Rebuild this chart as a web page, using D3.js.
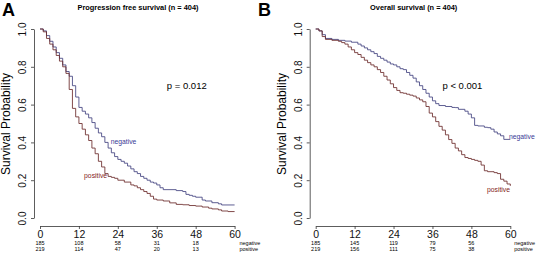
<!DOCTYPE html>
<html>
<head>
<meta charset="utf-8">
<script src="https://cdn.jsdelivr.net/npm/d3@7"></script>
<style>
  body { margin: 0; background: #fff; }
  svg text { font-family: "Liberation Sans", Arial, Helvetica, sans-serif; }
  .axis path, .axis line { stroke: #333; stroke-width: 0.8; }
  .axis text { font-size: 10px; fill: #111; }
</style>
</head>
<body>
<svg id="chart" width="536" height="255"></svg>
<script>
// ---- data: [months, survival probability] ----
const pfsNegative = [[0,1],[1,0.99],[2,0.965],[3,0.935],[4,0.905],[5,0.875],[6,0.845],[7,0.81],[8,0.775],
  [9,0.75],[10,0.70],[11,0.64],[12,0.585],[13,0.565],[14,0.55],[15,0.53],[16,0.505],[17,0.475],[18,0.45],
  [19,0.43],[20,0.40],[21,0.37],[22,0.345],[23,0.325],[24,0.31],[25,0.30],[26,0.29],[27,0.275],[28,0.26],
  [29,0.245],[30,0.235],[31,0.22],[32,0.21],[33,0.20],[34,0.19],[35,0.185],[36,0.175],[37,0.16],[38,0.15],
  [42,0.145],[44,0.14],[45,0.125],[46,0.12],[47,0.115],[48,0.11],[50,0.095],[51,0.09],[53,0.081],[55,0.075],
  [56,0.069],[60,0.069]];
const pfsPositive = [[0,1],[1,0.985],[2,0.95],[3,0.92],[4,0.89],[5,0.86],[6,0.83],[7,0.80],[8,0.765],
  [9,0.68],[10,0.58],[11,0.535],[12,0.50],[13,0.47],[14,0.44],[15,0.41],[16,0.37],[17,0.34],[18,0.30],
  [19,0.27],[20,0.235],[21,0.22],[22,0.215],[23,0.21],[24,0.20],[26,0.19],[28,0.175],[29,0.17],[30,0.16],
  [31,0.15],[32,0.14],[33,0.13],[34,0.115],[35,0.10],[36,0.095],[38,0.09],[40,0.08],[42,0.072],[44,0.07],
  [46,0.066],[48,0.063],[50,0.058],[52,0.052],[53,0.048],[55,0.043],[56,0.037],[58,0.034],[60,0.034]];

const osNegative = [[0,1],[1,0.99],[2,0.97],[3,0.95],[5,0.945],[7,0.94],[9,0.936],[11,0.93],[13,0.92],
  [14,0.91],[15,0.90],[16,0.89],[17,0.88],[18,0.87],[19,0.855],[20,0.845],[21,0.835],[22,0.825],[23,0.815],
  [24,0.81],[25,0.80],[26,0.79],[27,0.785],[28,0.77],[29,0.755],[30,0.74],[31,0.72],[32,0.70],[33,0.68],
  [34,0.66],[35,0.64],[36,0.62],[37,0.605],[38,0.595],[40,0.59],[42,0.585],[43,0.584],[44,0.575],[46,0.565],
  [47,0.55],[48,0.53],[49,0.49],[50,0.487],[52,0.48],[53,0.478],[54,0.47],[55,0.455],[56,0.445],[57,0.435],
  [58,0.416],[60,0.416]];
const osPositive = [[0,1],[1,0.99],[2,0.96],[3,0.945],[5,0.94],[7,0.935],[8,0.928],[9,0.92],[10,0.905],
  [11,0.89],[12,0.875],[13,0.865],[14,0.85],[15,0.835],[16,0.822],[17,0.81],[18,0.80],[19,0.785],[20,0.77],
  [21,0.75],[22,0.73],[23,0.71],[24,0.69],[25,0.675],[26,0.663],[27,0.66],[28,0.655],[29,0.65],[30,0.645],
  [31,0.635],[32,0.625],[33,0.615],[34,0.59],[35,0.555],[36,0.535],[37,0.51],[38,0.485],[39,0.465],[40,0.44],
  [41,0.415],[42,0.395],[43,0.37],[44,0.355],[45,0.335],[46,0.32],[47,0.315],[48,0.31],[49,0.305],[50,0.30],
  [51,0.28],[52,0.25],[53,0.245],[55,0.24],[56,0.235],[57,0.205],[58,0.195],[59,0.18],[60,0.17]];

const xTicks = [0, 12, 24, 36, 48, 60];
const yTicks = [0, 0.2, 0.4, 0.6, 0.8, 1.0];
const riskTimes = [0, 12, 24, 36, 48];
const pfsRiskNegative = [185, 108, 58, 31, 18];
const pfsRiskPositive = [219, 114, 47, 20, 13];
const osRiskNegative = [185, 145, 119, 79, 56];
const osRiskPositive = [219, 156, 111, 75, 38];

const negColor = '#424280';
const posColor = '#6c2a2a';

class KMPlot {
  constructor(_config) {
    this.config = _config;
    this.initVis();
  }

  initVis() {
    let vis = this;
    const c = vis.config;
    vis.svg = d3.select(c.parentElement);
    vis.g = vis.svg.append('g');

    vis.xScale = d3.scaleLinear().domain([0, 60]).range([c.left, c.left + 194.6]);
    vis.yScale = d3.scaleLinear().domain([0, 1]).range([218, 29]);

    // x axis (R style, outward ticks)
    vis.g.append('g')
        .attr('class', 'axis x-axis')
        .attr('transform', 'translate(0,226)')
        .call(d3.axisBottom(vis.xScale).tickValues(xTicks).tickSize(3).tickSizeOuter(0).tickPadding(2))
        .call(g => g.selectAll('text').style('font-size', '10.5px'));

    // y axis with rotated labels
    const yAxisG = vis.g.append('g')
        .attr('class', 'axis y-axis')
        .attr('transform', `translate(${c.left - 6},0)`)
        .call(d3.axisLeft(vis.yScale).tickValues(yTicks).tickSize(3).tickSizeOuter(0)
          .tickFormat(d3.format('.1f')));
    yAxisG.selectAll('text')
        .attr('x', 0).attr('dy', 0)
        .attr('transform', 'translate(-8,0) rotate(-90)')
        .style('text-anchor', 'middle');

    vis.g.append('text')
        .attr('transform', `translate(${c.left - 30},124) rotate(-90)`)
        .style('text-anchor', 'middle')
        .style('font-size', '12px')
        .text('Survival Probability');

    vis.g.append('text')
        .attr('x', c.panelX).attr('y', 16)
        .style('font-size', '18px').style('font-weight', 'bold')
        .text(c.panel);

    vis.g.append('text')
        .attr('x', c.left + 98).attr('y', 10)
        .style('text-anchor', 'middle')
        .style('font-size', '7.4px').style('font-weight', 'bold')
        .text(c.title);

    vis.g.append('text')
        .attr('x', vis.xScale(39.1)).attr('y', vis.yScale(0.68))
        .style('font-size', '9.5px')
        .text(c.pLabel);

    vis.renderVis();
  }

  renderVis() {
    let vis = this;
    const c = vis.config;
    const line = d3.line()
        .x(d => vis.xScale(d[0]))
        .y(d => vis.yScale(d[1]))
        .curve(d3.curveStepAfter);

    vis.g.selectAll('.km')
        .data([{d: c.negative, col: negColor}, {d: c.positive, col: posColor}])
      .join('path')
        .attr('class', 'km')
        .attr('d', s => line(s.d))
        .attr('fill', 'none')
        .attr('stroke', s => s.col)
        .attr('stroke-width', 0.85);

    // curve labels
    vis.g.append('text')
        .attr('x', vis.xScale(c.negLabel[0])).attr('y', vis.yScale(c.negLabel[1]))
        .style('font-size', '6.8px').style('fill', '#3a3a96')
        .text('negative');
    vis.g.append('text')
        .attr('x', vis.xScale(c.posLabel[0])).attr('y', vis.yScale(c.posLabel[1]))
        .style('font-size', '6.8px').style('fill', '#842222')
        .text('positive');

    // numbers at risk
    [[c.riskNeg, 245, 'negative'], [c.riskPos, 250.5, 'positive']].forEach(([arr, y, lab]) => {
      vis.g.selectAll(null)
          .data(arr)
        .join('text')
          .attr('x', (d, i) => vis.xScale(riskTimes[i]))
          .attr('y', y)
          .style('text-anchor', 'middle')
          .style('font-size', '5.5px')
          .text(d => d);
      vis.g.append('text')
          .attr('x', vis.xScale(c.riskLabelAt)).attr('y', y)
          .style('font-size', '5.5px')
          .text(lab);
    });
  }
}

new KMPlot({
  parentElement: '#chart', left: 40, panelX: 2, panel: 'A',
  title: 'Progression free survival (n = 404)', pLabel: 'p = 0.012',
  negative: pfsNegative, positive: pfsPositive,
  negLabel: [21.8, 0.39], posLabel: [13.6, 0.21],
  riskNeg: pfsRiskNegative, riskPos: pfsRiskPositive, riskLabelAt: 61.5
});

new KMPlot({
  parentElement: '#chart', left: 315.7, panelX: 258, panel: 'B',
  title: 'Overall survival (n = 404)', pLabel: 'p < 0.001',
  negative: osNegative, positive: osPositive,
  negLabel: [59.6, 0.42], posLabel: [52.8, 0.14],
  riskNeg: osRiskNegative, riskPos: osRiskPositive, riskLabelAt: 61.2
});
</script>
</body>
</html>
